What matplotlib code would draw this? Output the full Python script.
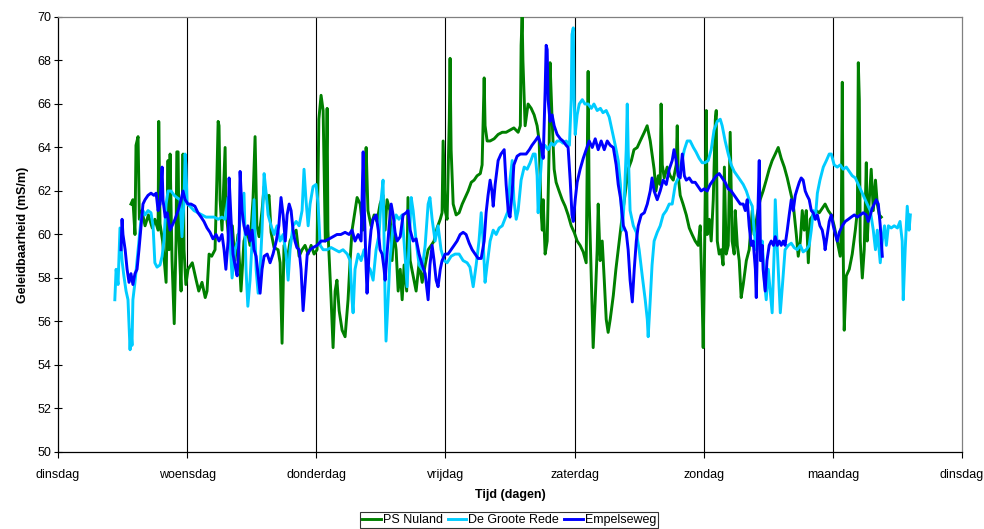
import matplotlib
matplotlib.use("Agg")
import matplotlib.pyplot as plt
import numpy as np

plt.rcParams['font.family'] = ['Liberation Sans', 'DejaVu Sans']

day_labels = ["dinsdag", "woensdag", "donderdag", "vrijdag", "zaterdag", "zondag", "maandag", "dinsdag"]
series_names = ["PS Nuland", "De Groote Rede", "Empelseweg"]
series_colors = ["#008000", "#00CCFF", "#0000FF"]

# PS Nuland (day, mS/m)
nuland_t = [0.565, 0.58, 0.596, 0.604, 0.62, 0.63, 0.65, 0.674, 0.70, 0.73, 0.75, 0.775, 0.78, 0.79, 0.81, 0.837,
            0.852, 0.86, 0.868, 0.883, 0.90, 0.914, 0.92, 0.93, 0.937, 0.953, 0.968, 0.976, 0.99, 1.007, 1.04, 1.07,
            1.09, 1.115, 1.14, 1.154, 1.17, 1.19, 1.216, 1.23, 1.24, 1.247, 1.255, 1.27, 1.294, 1.30, 1.325, 1.35,
            1.37, 1.394, 1.417, 1.44, 1.464, 1.487, 1.51, 1.526, 1.54, 1.557, 1.58, 1.596, 1.62, 1.634, 1.65, 1.673,
            1.704, 1.72, 1.735, 1.75, 1.774, 1.797, 1.82, 1.844, 1.867, 1.89, 1.913, 1.937, 1.96, 1.983, 2.006, 2.02,
            2.037, 2.053, 2.07, 2.084, 2.09, 2.115, 2.13, 2.146, 2.16, 2.177, 2.2, 2.223, 2.246, 2.262, 2.277, 2.30,
            2.316, 2.34, 2.36, 2.378, 2.386, 2.40, 2.424, 2.448, 2.47, 2.494, 2.517, 2.533, 2.548, 2.57, 2.587, 2.60,
            2.618, 2.634, 2.65, 2.665, 2.68, 2.70, 2.71, 2.727, 2.75, 2.773, 2.796, 2.82, 2.843, 2.866, 2.89, 2.912,
            2.935, 2.96, 2.974, 2.982, 2.998, 3.013, 3.03, 3.036, 3.044, 3.06, 3.083, 3.106, 3.13, 3.153, 3.176, 3.2,
            3.222, 3.245, 3.27, 3.284, 3.30, 3.307, 3.323, 3.346, 3.377, 3.408, 3.44, 3.47, 3.50, 3.53, 3.563, 3.58,
            3.586, 3.594, 3.60, 3.617, 3.64, 3.664, 3.687, 3.71, 3.726, 3.74, 3.75, 3.757, 3.772, 3.788, 3.803, 3.81,
            3.826, 3.842, 3.857, 3.88, 3.904, 3.927, 3.95, 3.974, 3.997, 4.02, 4.043, 4.067, 4.09, 4.105, 4.113, 4.13,
            4.144, 4.16, 4.175, 4.183, 4.198, 4.214, 4.23, 4.245, 4.26, 4.276, 4.3, 4.32, 4.346, 4.37, 4.39, 4.415,
            4.44, 4.46, 4.485, 4.508, 4.54, 4.562, 4.586, 4.60, 4.616, 4.63, 4.648, 4.663, 4.67, 4.679, 4.694, 4.717,
            4.74, 4.764, 4.787, 4.795, 4.803, 4.818, 4.84, 4.865, 4.888, 4.91, 4.934, 4.957, 4.973, 4.988, 4.996,
            5.004, 5.02, 5.027, 5.043, 5.058, 5.074, 5.09, 5.097, 5.105, 5.12, 5.135, 5.15, 5.16, 5.174, 5.19, 5.205,
            5.22, 5.236, 5.244, 5.26, 5.275, 5.29, 5.306, 5.33, 5.352, 5.376, 5.39, 5.414, 5.437, 5.46, 5.484, 5.507,
            5.53, 5.554, 5.577, 5.6, 5.624, 5.647, 5.67, 5.693, 5.717, 5.732, 5.748, 5.763, 5.778, 5.794, 5.81, 5.825,
            5.848, 5.87, 5.895, 5.918, 5.94, 5.964, 5.988, 6.01, 6.034, 6.057, 6.065, 6.073, 6.08, 6.088, 6.104,
            6.127, 6.15, 6.174, 6.19, 6.197, 6.205, 6.212, 6.228, 6.243, 6.259, 6.266, 6.282, 6.297, 6.313, 6.33,
            6.344, 6.36, 6.375]
nuland_v = [61.4, 61.6, 60.0, 64.1, 64.5, 60.7, 61.1, 60.4, 60.9, 60.3, 60.7, 60.2, 65.2, 60.5, 59.7, 57.8,
            63.4, 59.3, 63.7, 58.8, 55.9, 59.7, 63.8, 63.8, 59.7, 57.4, 63.7, 59.3, 57.7, 58.4, 58.7, 57.9,
            57.4, 57.8, 57.1, 57.4, 59.1, 59.0, 59.3, 62.5, 65.2, 65.0, 61.6, 60.2, 64.0, 61.1, 59.7, 60.4,
            58.8, 60.0, 57.4, 59.7, 60.2, 59.5, 61.6, 64.5, 60.4, 59.9, 61.1, 62.2, 61.6, 61.8, 60.1, 59.4,
            59.3, 58.7, 55.0, 59.5, 58.8, 59.7, 60.0, 60.2, 59.0, 59.3, 59.5, 59.1, 59.5, 59.1, 59.3, 65.3,
            66.4, 65.7, 59.7, 65.8, 60.2, 57.0, 54.8, 57.4, 57.9, 56.5, 55.6, 55.3, 57.0, 58.8, 60.2, 61.1,
            61.7, 61.4, 60.2, 62.7, 64.0, 61.1, 60.4, 60.9, 60.6, 61.4, 61.8, 60.2, 61.6, 61.1, 58.8, 60.2,
            59.3, 57.4, 58.4, 57.0, 58.6, 57.4, 61.7, 58.8, 58.1, 57.4, 58.7, 57.8, 58.6, 59.3, 59.5, 59.7,
            60.3, 60.7, 61.0, 64.3, 61.1, 60.7, 65.3, 68.1, 63.9, 61.4, 60.9, 61.0, 61.4, 61.7, 62.0, 62.4,
            62.5, 62.7, 62.8, 63.2, 67.2, 65.0, 64.3, 64.3, 64.4, 64.6, 64.7, 64.7, 64.8, 64.9, 64.7, 65.0,
            68.7, 70.0, 68.0, 65.0, 66.0, 65.8, 65.5, 65.0, 64.3, 61.1, 60.2, 61.6, 59.1, 59.7, 63.9, 67.9,
            65.3, 63.0, 62.4, 62.0, 61.6, 61.3, 60.9, 60.4, 60.1, 59.7, 59.5, 59.2, 58.7, 67.5, 61.6, 57.9,
            54.8, 57.0, 59.3, 61.4, 58.8, 59.7, 57.9, 56.1, 55.5, 56.1, 57.2, 58.4, 59.7, 60.9, 61.8, 63.0,
            63.4, 63.9, 64.0, 64.3, 64.7, 65.0, 64.3, 63.7, 63.0, 62.0, 62.7, 62.3, 66.0, 63.2, 62.6, 63.1,
            62.7, 62.5, 63.2, 65.0, 62.7, 61.8, 61.4, 60.9, 60.3, 60.0, 59.7, 59.5, 60.4, 57.0, 54.8,
            57.9, 65.7, 60.0, 60.7, 59.7, 61.6, 65.3, 65.7, 59.7, 59.1, 59.3, 58.6, 63.1, 59.1, 59.5, 64.7,
            59.7, 59.1, 61.1, 59.5, 58.8, 57.1, 57.7, 58.8, 59.3, 61.1, 60.0, 60.9, 61.6, 62.0, 62.5, 63.0,
            63.4, 63.7, 64.0, 63.5, 63.1, 62.6, 62.0, 61.4, 60.0, 59.0, 59.7, 61.1, 60.2, 61.1, 58.7, 60.7,
            60.9, 61.1, 61.0, 61.2, 61.4, 61.1, 60.9, 60.4, 59.7, 59.0, 60.2, 67.0, 59.3, 55.6, 58.1,
            58.4, 59.1, 60.2, 61.1, 67.9, 66.2, 59.7, 58.0, 59.3, 63.3, 59.7, 61.6, 63.0, 61.1, 62.5,
            61.4, 60.9, 60.8]

# De Groote Rede
groote_t = [0.44, 0.45, 0.465, 0.48, 0.496, 0.51, 0.527, 0.542, 0.558, 0.565, 0.573, 0.58, 0.596, 0.612, 0.627,
            0.643, 0.658, 0.674, 0.697, 0.72, 0.736, 0.75, 0.767, 0.79, 0.806, 0.82, 0.837, 0.852, 0.875, 0.90,
            0.92, 0.945, 0.96, 0.976, 0.984, 0.99, 1.0, 1.022, 1.053, 1.084, 1.115, 1.146, 1.177, 1.21, 1.24,
            1.27, 1.294, 1.317, 1.332, 1.348, 1.37, 1.394, 1.417, 1.44, 1.456, 1.47, 1.487, 1.503, 1.518, 1.534,
            1.55, 1.565, 1.58, 1.596, 1.61, 1.627, 1.65, 1.673, 1.696, 1.72, 1.743, 1.766, 1.782, 1.797, 1.82,
            1.844, 1.867, 1.89, 1.905, 1.92, 1.937, 1.952, 1.975, 1.998, 2.014, 2.03, 2.053, 2.084, 2.115, 2.146,
            2.177, 2.207, 2.24, 2.262, 2.277, 2.285, 2.30, 2.324, 2.347, 2.37, 2.393, 2.417, 2.44, 2.463, 2.486,
            2.502, 2.517, 2.533, 2.54, 2.556, 2.57, 2.595, 2.618, 2.64, 2.665, 2.69, 2.703, 2.72, 2.735, 2.75,
            2.773, 2.796, 2.82, 2.843, 2.866, 2.88, 2.897, 2.92, 2.943, 2.966, 2.99, 3.013, 3.044, 3.075, 3.106,
            3.137, 3.168, 3.19, 3.215, 3.238, 3.26, 3.277, 3.292, 3.307, 3.323, 3.346, 3.37, 3.393, 3.416, 3.44,
            3.46, 3.486, 3.50, 3.517, 3.53, 3.548, 3.563, 3.586, 3.61, 3.633, 3.656, 3.68, 3.695, 3.71, 3.718,
            3.733, 3.75, 3.77, 3.795, 3.82, 3.84, 3.865, 3.89, 3.91, 3.935, 3.96, 3.974, 3.98, 3.99, 3.997, 4.005,
            4.02, 4.036, 4.06, 4.08, 4.105, 4.13, 4.15, 4.175, 4.2, 4.22, 4.245, 4.268, 4.29, 4.315, 4.338, 4.355,
            4.37, 4.385, 4.4, 4.408, 4.415, 4.43, 4.455, 4.478, 4.5, 4.524, 4.547, 4.563, 4.57, 4.586, 4.6, 4.616,
            4.64, 4.663, 4.686, 4.71, 4.733, 4.756, 4.78, 4.803, 4.826, 4.85, 4.872, 4.895, 4.92, 4.94, 4.965,
            4.988, 5.01, 5.035, 5.058, 5.08, 5.105, 5.128, 5.143, 5.166, 5.19, 5.213, 5.236, 5.26, 5.283, 5.306,
            5.33, 5.352, 5.376, 5.39, 5.406, 5.43, 5.44, 5.453, 5.47, 5.484, 5.5, 5.515, 5.53, 5.546, 5.554,
            5.57, 5.585, 5.593, 5.61, 5.63, 5.655, 5.678, 5.7, 5.724, 5.748, 5.77, 5.794, 5.817, 5.833, 5.848,
            5.864, 5.88, 5.9, 5.926, 5.95, 5.972, 5.988, 6.01, 6.034, 6.057, 6.08, 6.104, 6.127, 6.15, 6.174,
            6.197, 6.22, 6.243, 6.266, 6.29, 6.313, 6.33, 6.344, 6.367, 6.383, 6.4, 6.414, 6.43, 6.452, 6.475,
            6.5, 6.52, 6.537, 6.545, 6.56, 6.576, 6.59, 6.6]
groote_v = [57.0, 58.4, 57.7, 60.3, 58.8, 58.1, 57.4, 57.0, 54.7, 55.6, 54.9, 57.0, 57.8, 58.8, 59.7,
            60.7, 61.1, 60.9, 61.1, 61.0, 60.4, 58.7, 58.5, 58.6, 59.0, 59.7, 61.4, 62.0, 62.0, 61.8,
            61.7, 61.6, 59.9, 61.6, 63.7, 63.2, 61.4, 61.3, 61.1, 61.0, 60.9, 60.8, 60.8, 60.8, 60.7,
            60.8, 60.7, 61.7, 59.7, 58.0, 59.3, 59.7, 61.1, 61.9, 58.4, 56.7, 57.9, 59.7, 61.6, 58.4,
            57.3, 58.4, 60.2, 62.8, 62.0, 60.9, 60.4, 60.0, 60.4, 59.7, 60.0, 59.1, 57.9, 59.3, 60.4,
            60.6, 60.4, 61.1, 63.0, 61.6, 60.4, 61.4, 62.2, 62.3, 61.4, 59.5, 59.3, 59.3, 59.4, 59.3,
            59.2, 59.3, 59.1, 58.8, 57.0, 56.4, 58.4, 59.1, 58.8, 59.3, 58.6, 58.4, 57.9, 59.3, 60.0,
            61.6, 62.5, 57.0, 55.1, 57.0, 58.8, 60.4, 60.9, 60.7, 60.9, 58.8, 57.6, 59.7, 61.7, 61.1,
            59.7, 58.6, 58.4, 59.5, 61.4, 61.7, 60.7, 59.7, 60.4, 59.3, 58.8, 58.7, 59.0, 59.1, 59.1,
            58.8, 58.7, 58.5, 57.6, 58.6, 59.7, 61.0, 59.7, 57.8, 58.6, 59.7, 60.2, 60.0, 60.3, 60.4,
            60.7, 61.1, 62.5, 63.4, 61.6, 60.7, 61.1, 62.5, 63.1, 63.0, 63.3, 63.7, 63.7, 62.7, 61.0,
            62.5, 63.9, 64.1, 63.9, 64.2, 64.1, 64.3, 64.3, 64.2, 64.3, 64.1, 66.2, 69.2, 69.5, 66.2, 64.6,
            65.5, 66.0, 66.2, 66.0, 66.0, 65.8, 66.0, 65.7, 65.8, 65.6, 65.7, 65.4, 64.8, 64.1, 63.4, 62.3,
            60.2, 61.6, 63.9, 66.0, 63.9, 61.1, 60.4, 60.1, 59.3, 58.1, 57.0, 56.1, 55.3, 57.0, 58.6, 59.7,
            60.1, 60.4, 60.9, 61.1, 61.4, 61.4, 62.3, 62.6, 63.2, 63.9, 64.3, 64.3, 64.0, 63.8, 63.5,
            63.3, 63.3, 63.4, 63.9, 64.8, 65.2, 65.3, 65.0, 64.3, 63.7, 63.2, 62.9, 62.7, 62.5, 62.3,
            62.0, 61.6, 61.3, 60.2, 59.3, 60.9, 58.8, 59.7, 57.9, 57.0, 58.4, 57.4, 56.4, 59.3, 61.6,
            59.3, 57.4, 56.4, 57.7, 59.3, 59.5, 59.6, 59.4, 59.3, 59.5, 59.2, 59.3, 59.5, 60.2, 61.1,
            60.7, 61.9, 62.5, 63.1, 63.4, 63.7, 63.7, 63.2, 63.1, 63.2, 63.0, 63.1, 62.9, 62.7, 62.6,
            62.3, 62.0, 61.7, 61.4, 61.1, 60.2, 59.3, 60.2, 58.7, 59.7, 60.4, 59.5, 60.4, 60.3, 60.4,
            60.3, 60.6, 59.7, 57.0, 59.3, 61.3, 60.2, 60.9]

# Empelseweg
empel_t = [0.488, 0.496, 0.503, 0.52, 0.535, 0.55, 0.565, 0.58, 0.596, 0.612, 0.627, 0.643, 0.658, 0.674, 0.697,
           0.72, 0.743, 0.76, 0.775, 0.79, 0.806, 0.813, 0.83, 0.845, 0.868, 0.883, 0.906, 0.93, 0.953, 0.968,
           0.984, 1.007, 1.03, 1.06, 1.084, 1.108, 1.13, 1.154, 1.177, 1.2, 1.224, 1.247, 1.27, 1.286, 1.3, 1.317,
           1.325, 1.34, 1.355, 1.37, 1.387, 1.402, 1.41, 1.425, 1.44, 1.456, 1.47, 1.487, 1.503, 1.518, 1.534,
           1.55, 1.565, 1.58, 1.596, 1.62, 1.642, 1.665, 1.69, 1.71, 1.727, 1.743, 1.76, 1.774, 1.79, 1.805, 1.82,
           1.835, 1.85, 1.867, 1.882, 1.898, 1.913, 1.93, 1.952, 1.975, 2.006, 2.037, 2.068, 2.1, 2.13, 2.16,
           2.19, 2.223, 2.254, 2.277, 2.3, 2.324, 2.347, 2.363, 2.37, 2.386, 2.393, 2.41, 2.424, 2.44, 2.463,
           2.48, 2.494, 2.51, 2.525, 2.533, 2.548, 2.564, 2.58, 2.595, 2.61, 2.626, 2.65, 2.672, 2.696, 2.71,
           2.727, 2.75, 2.773, 2.796, 2.82, 2.843, 2.866, 2.88, 2.897, 2.912, 2.928, 2.943, 2.96, 2.974, 2.998,
           3.02, 3.044, 3.067, 3.09, 3.114, 3.137, 3.16, 3.184, 3.207, 3.23, 3.253, 3.277, 3.3, 3.315, 3.33,
           3.346, 3.36, 3.37, 3.385, 3.408, 3.43, 3.455, 3.47, 3.486, 3.5, 3.517, 3.53, 3.555, 3.58, 3.6, 3.625,
           3.65, 3.67, 3.695, 3.718, 3.74, 3.757, 3.772, 3.78, 3.788, 3.795, 3.81, 3.826, 3.842, 3.865, 3.89,
           3.91, 3.935, 3.95, 3.966, 3.98, 3.99, 4.005, 4.02, 4.043, 4.067, 4.09, 4.113, 4.137, 4.16, 4.183,
           4.206, 4.23, 4.253, 4.276, 4.3, 4.322, 4.338, 4.355, 4.378, 4.4, 4.415, 4.43, 4.447, 4.462, 4.478,
           4.493, 4.516, 4.54, 4.563, 4.586, 4.6, 4.616, 4.64, 4.663, 4.686, 4.71, 4.733, 4.756, 4.77, 4.787,
           4.803, 4.818, 4.834, 4.85, 4.865, 4.888, 4.91, 4.934, 4.957, 4.98, 5.004, 5.027, 5.05, 5.074, 5.097,
           5.12, 5.143, 5.166, 5.19, 5.213, 5.236, 5.26, 5.283, 5.306, 5.322, 5.337, 5.352, 5.368, 5.383, 5.4,
           5.407, 5.415, 5.42, 5.43, 5.44, 5.453, 5.46, 5.476, 5.49, 5.507, 5.523, 5.54, 5.554, 5.57, 5.585,
           5.6, 5.616, 5.63, 5.647, 5.662, 5.678, 5.693, 5.709, 5.724, 5.74, 5.755, 5.77, 5.786, 5.8, 5.817,
           5.833, 5.848, 5.864, 5.88, 5.9, 5.918, 5.933, 5.94, 5.957, 5.972, 5.988, 6.003, 6.02, 6.034, 6.05,
           6.073, 6.096, 6.12, 6.142, 6.166, 6.19, 6.212, 6.235, 6.259, 6.274, 6.29, 6.305, 6.32, 6.336, 6.352,
           6.367, 6.383]
empel_v = [59.3, 60.7, 60.0, 59.3, 58.4, 57.8, 58.2, 57.7, 58.2, 58.4, 59.3, 60.4, 61.4, 61.6, 61.8,
           61.9, 61.8, 61.9, 61.1, 61.4, 63.1, 61.6, 60.8, 61.0, 60.2, 60.4, 60.7, 61.1, 61.6, 62.0,
           61.6, 61.4, 61.4, 61.3, 61.0, 60.8, 60.6, 60.3, 60.1, 59.8, 60.0, 59.7, 60.0, 59.3, 58.4, 59.7,
           62.6, 60.7, 59.1, 58.6, 58.1, 59.7, 62.9, 61.1, 60.4, 60.0, 60.4, 59.7, 60.2, 59.3, 59.0,
           58.1, 57.3, 58.4, 59.0, 59.1, 58.7, 59.1, 59.7, 60.4, 61.7, 60.9, 59.7, 60.9, 61.4, 61.1, 60.2,
           59.7, 59.4, 59.3, 58.4, 56.5, 57.7, 59.1, 59.3, 59.4, 59.5, 59.7, 59.7, 59.8, 59.9, 60.0,
           60.0, 60.1, 60.0, 60.2, 59.7, 60.0, 59.7, 63.8, 61.6, 58.4, 57.3, 59.3, 60.2, 60.7, 60.9,
           60.2, 59.3, 59.1, 58.4, 57.9, 59.1, 60.4, 61.4, 60.9, 60.1, 59.7, 59.9, 60.9, 61.0, 61.1,
           60.2, 59.7, 59.8, 59.1, 58.6, 58.2, 57.0, 58.6, 59.5, 58.8, 57.9, 57.6, 58.4, 58.8, 59.1,
           59.1, 59.3, 59.5, 59.7, 60.0, 60.1, 60.0, 59.6, 59.3, 59.1, 58.9, 58.9, 59.7, 61.0, 61.8,
           62.5, 62.0, 61.3, 62.3, 63.4, 63.7, 63.9, 62.3, 61.1, 60.8, 62.0, 63.2, 63.6, 63.7, 63.7, 63.7,
           63.9, 64.1, 64.3, 64.5, 64.1, 63.5, 66.6, 68.7, 68.5, 66.2, 65.2, 65.5, 65.0, 64.6, 64.4,
           64.3, 64.1, 64.0, 62.5, 60.9, 60.6, 61.6, 62.4, 63.0, 63.5, 63.9, 64.3, 64.0, 64.4, 63.9,
           64.3, 63.9, 64.3, 64.1, 64.0, 63.2, 62.3, 61.7, 60.4, 60.1, 59.3, 57.9, 56.9, 58.4, 59.7,
           60.4, 60.9, 61.0, 61.4, 62.0, 62.6, 62.0, 61.6, 62.0, 62.5, 62.3, 63.0, 63.4, 63.9, 63.4,
           62.7, 62.6, 63.7, 62.7, 62.5, 62.6, 62.4, 62.4, 62.2, 62.0, 62.1, 62.0, 62.3, 62.5, 62.7,
           62.8, 62.6, 62.4, 62.1, 62.0, 61.8, 61.6, 61.4, 61.4, 61.1, 61.6, 60.4, 59.5, 59.7, 58.4,
           57.1, 59.3, 61.1, 63.4, 58.8, 59.5, 58.4, 57.4, 58.8, 59.5, 59.7, 59.5, 59.9, 59.5, 59.7,
           59.5, 59.7, 59.5, 60.2, 60.9, 61.6, 61.1, 61.8, 62.1, 62.4, 62.6, 62.5, 62.0, 61.8, 61.6,
           61.1, 61.0, 60.7, 60.9, 60.4, 60.2, 59.7, 59.3, 60.0, 60.6, 60.9, 60.4, 60.0, 59.7, 60.1,
           60.4, 60.6, 60.7, 60.8, 60.9, 60.8, 60.9, 61.0, 60.9, 60.6, 60.9, 61.2, 61.4, 61.6, 61.4,
           60.4, 59.0]

y_ticks = list(range(50, 71, 2))

fig = plt.figure(figsize=(9.84, 5.29), dpi=100)
ax = fig.add_axes([58 / 984, (529 - 452) / 529, (962 - 58) / 984, (452 - 17) / 529])

ax.plot(nuland_t, nuland_v, color=series_colors[0], lw=2.1, label=series_names[0], zorder=3)
ax.plot(groote_t, groote_v, color=series_colors[1], lw=2.1, label=series_names[1], zorder=4)
ax.plot(empel_t, empel_v, color=series_colors[2], lw=2.1, label=series_names[2], zorder=5)

ax.set_xlim(0, 7)
ax.set_ylim(50, 70)
ax.set_xticks(range(len(day_labels)))
ax.set_xticklabels(day_labels, fontsize=9)
ax.set_yticks(y_ticks)
ax.set_yticklabels([str(v) for v in y_ticks], fontsize=9)
ax.tick_params(axis='x', direction='out', length=4, width=0.8, pad=8)
ax.tick_params(axis='y', direction='inout', length=6, width=0.8, pad=2)

for d in range(1, 7):
    ax.axvline(d, color='black', lw=0.8, zorder=1)

for s in ['left', 'bottom']:
    ax.spines[s].set_color('black')
    ax.spines[s].set_linewidth(0.9)
for s in ['top', 'right']:
    ax.spines[s].set_color('#808080')
    ax.spines[s].set_linewidth(0.9)

ax.set_xlabel("Tijd (dagen)", fontsize=9, fontweight='bold', labelpad=6)
ax.set_ylabel("Geleidbaarheid (mS/m)", fontsize=9, fontweight='bold', labelpad=6)

leg = fig.legend(loc='lower center', bbox_to_anchor=(509 / 984, 0.002), ncol=3, fontsize=9,
                 frameon=True, fancybox=False, edgecolor='black', handlelength=1.5,
                 handletextpad=0.15, columnspacing=0.4, borderpad=0.15, borderaxespad=0)
leg.get_frame().set_linewidth(0.8)

fig.savefig("out.png", dpi=100)
